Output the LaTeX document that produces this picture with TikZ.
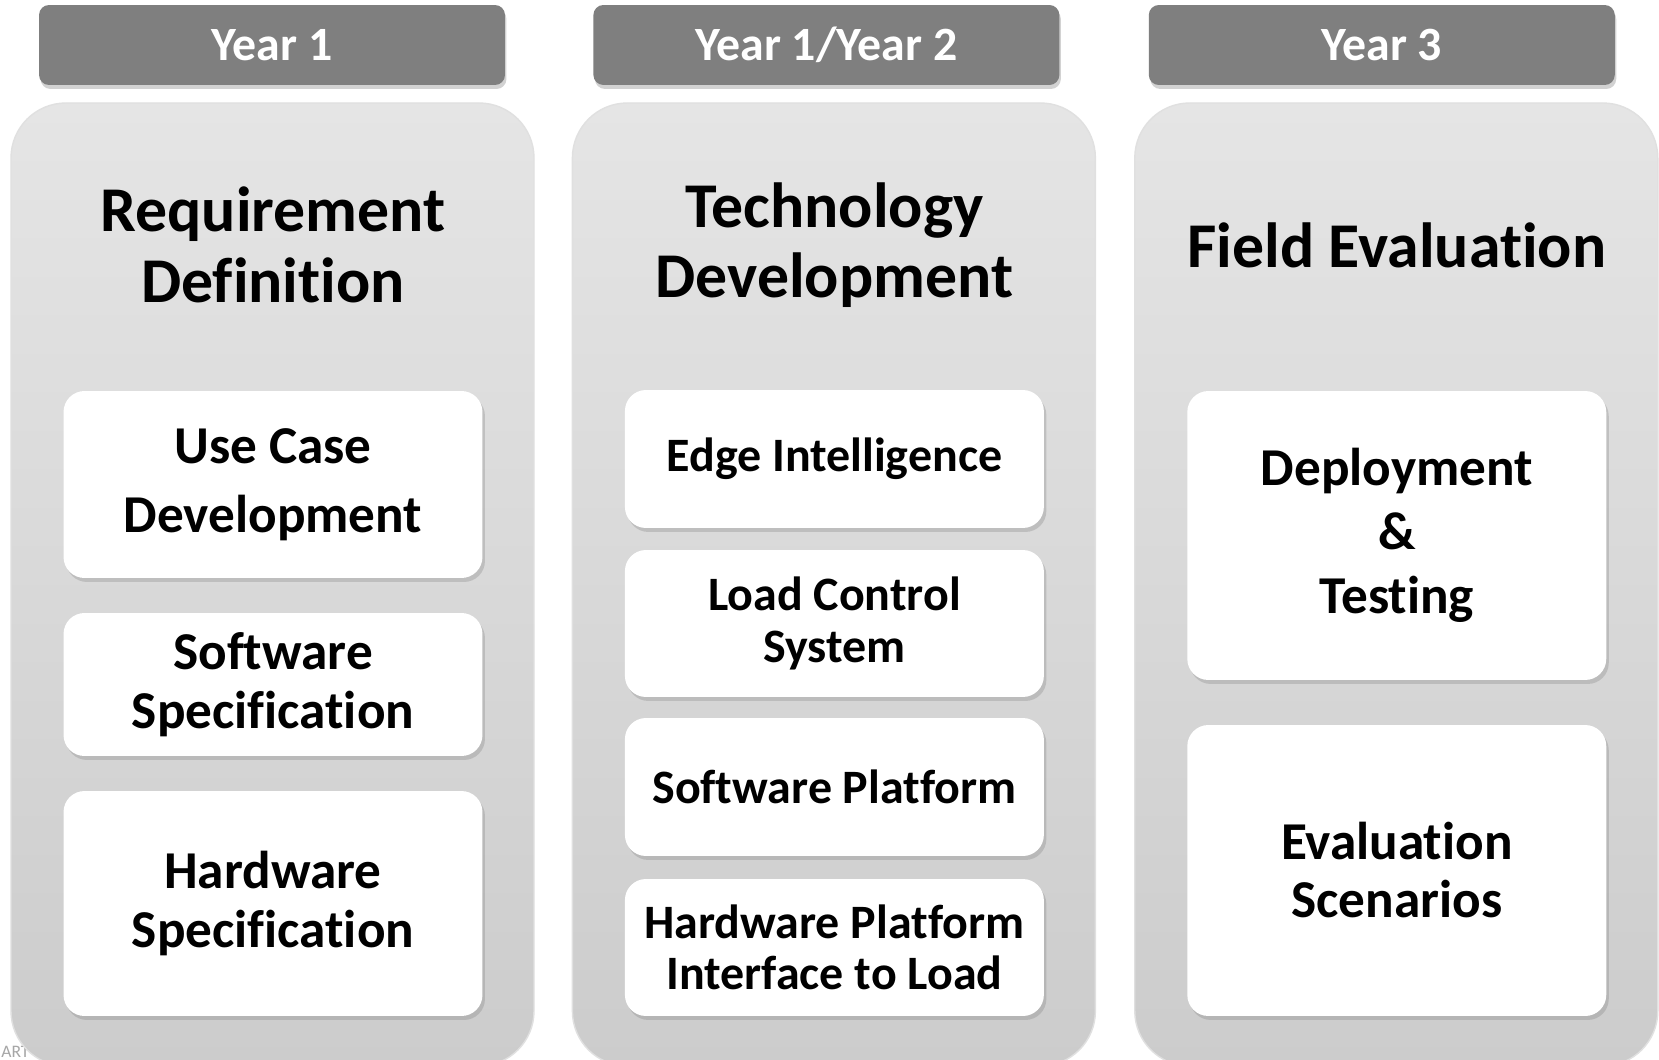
\documentclass[tikz,border=0pt]{standalone}
\usepackage{fontspec}
\setmainfont{Carlito}[Ligatures=NoCommon]
\usepackage{xcolor}
\usepackage{tikz}
\usetikzlibrary{shadows}

\definecolor{cinzaano}{RGB}{127,127,127}
\definecolor{painelclaro}{RGB}{229,229,229}
\definecolor{painelescuro}{RGB}{204,204,204}

\tikzset{
  ano/.style={fill=cinzaano, rounded corners=0.2cm, minimum width=9.32cm, minimum height=1.6cm,
    text=white, font=\bfseries\fontsize{27.2}{30}\selectfont,
    drop shadow={opacity=0.35, shadow xshift=0.03cm, shadow yshift=-0.08cm}},
  painel/.style={top color=painelclaro, bottom color=painelescuro, draw=black!12, line width=0.8pt,
    rounded corners=1.1cm},
  titulo/.style={align=center, font=\bfseries\fontsize{36.3}{40}\selectfont},
  caixa/.style={fill=white, rounded corners=0.42cm, minimum width=8.38cm, align=center,
    font=\bfseries\fontsize{#1}{33.6}\selectfont,
    drop shadow={opacity=0.3, shadow xshift=0.05cm, shadow yshift=-0.08cm}},
  caixa/.default=27.3,
  marca/.style={text=black!35, font=\fontsize{10}{12}\selectfont, inner sep=0pt}
}

\begin{document}
\begin{tikzpicture}[x=0.02cm, y=-0.02cm]
\useasboundingbox (0,0) rectangle (1659,1060);
\fill[white] (0,0) rectangle (1659,1060);
\node[marca, anchor=south west] (m0) at (1,1058) {ART};
    % Primeira coluna:
    \begin{scope}
    \def\painel{(11,103) rectangle (534,1066)}
    \draw[painel] \painel;
    \node[ano] (y1) at (272,45) {Year 1};
    \node[titulo] (t1) at (273,245) {Requirement\\Definition};
    \node[caixa=30.3, minimum height=3.74cm] (b11) at (273,484.5) {Use Case\\[5.5pt]Development};
    \node[caixa=30.3, minimum height=2.86cm] (b12) at (273,684.5) {Software\\Specification};
    \node[caixa=30.3, minimum height=4.5cm] (b13) at (273,903.5) {Hardware\\Specification};
    \end{scope}
    % Segunda coluna:
    \begin{scope}[xshift=11.23cm]
    \def\painel{(11,103) rectangle (534,1066)}
    \draw[painel] \painel;
    \node[ano] (y2) at (265,45) {Year 1/Year 2};
    \node[titulo] (t2) at (273,245) {Technology\\Development};
    \node[caixa, minimum height=2.76cm] (b21) at (273,459) {Edge Intelligence};
    \node[caixa, minimum height=2.94cm] (b22) at (273,623.5) {Load Control\\[-4pt]System};
    \node[caixa, minimum height=2.76cm] (b23) at (273,787) {Software Platform};
    \node[caixa, minimum height=2.74cm] (b24) at (273,947.5) {Hardware Platform\\[-4.5pt]Interface to Load};
    \end{scope}
    % Terceira coluna:
    \begin{scope}[xshift=22.48cm]
    \def\painel{(11,103) rectangle (534,1066)}
    \draw[painel] \painel;
    \node[ano] (y3) at (258,45) {Year 3};
    \node[titulo] (t3) at (273,245) {Field Evaluation};
    \node[caixa=30.3, minimum height=5.78cm] (b31) at (273,535.5) {Deployment\\[3pt]\&\\[3pt]Testing};
    \node[caixa=30.3, minimum height=5.82cm] (b32) at (273,870.5) {Evaluation\\[-0.6pt]Scenarios};
    \end{scope}
\end{tikzpicture}
\end{document}
